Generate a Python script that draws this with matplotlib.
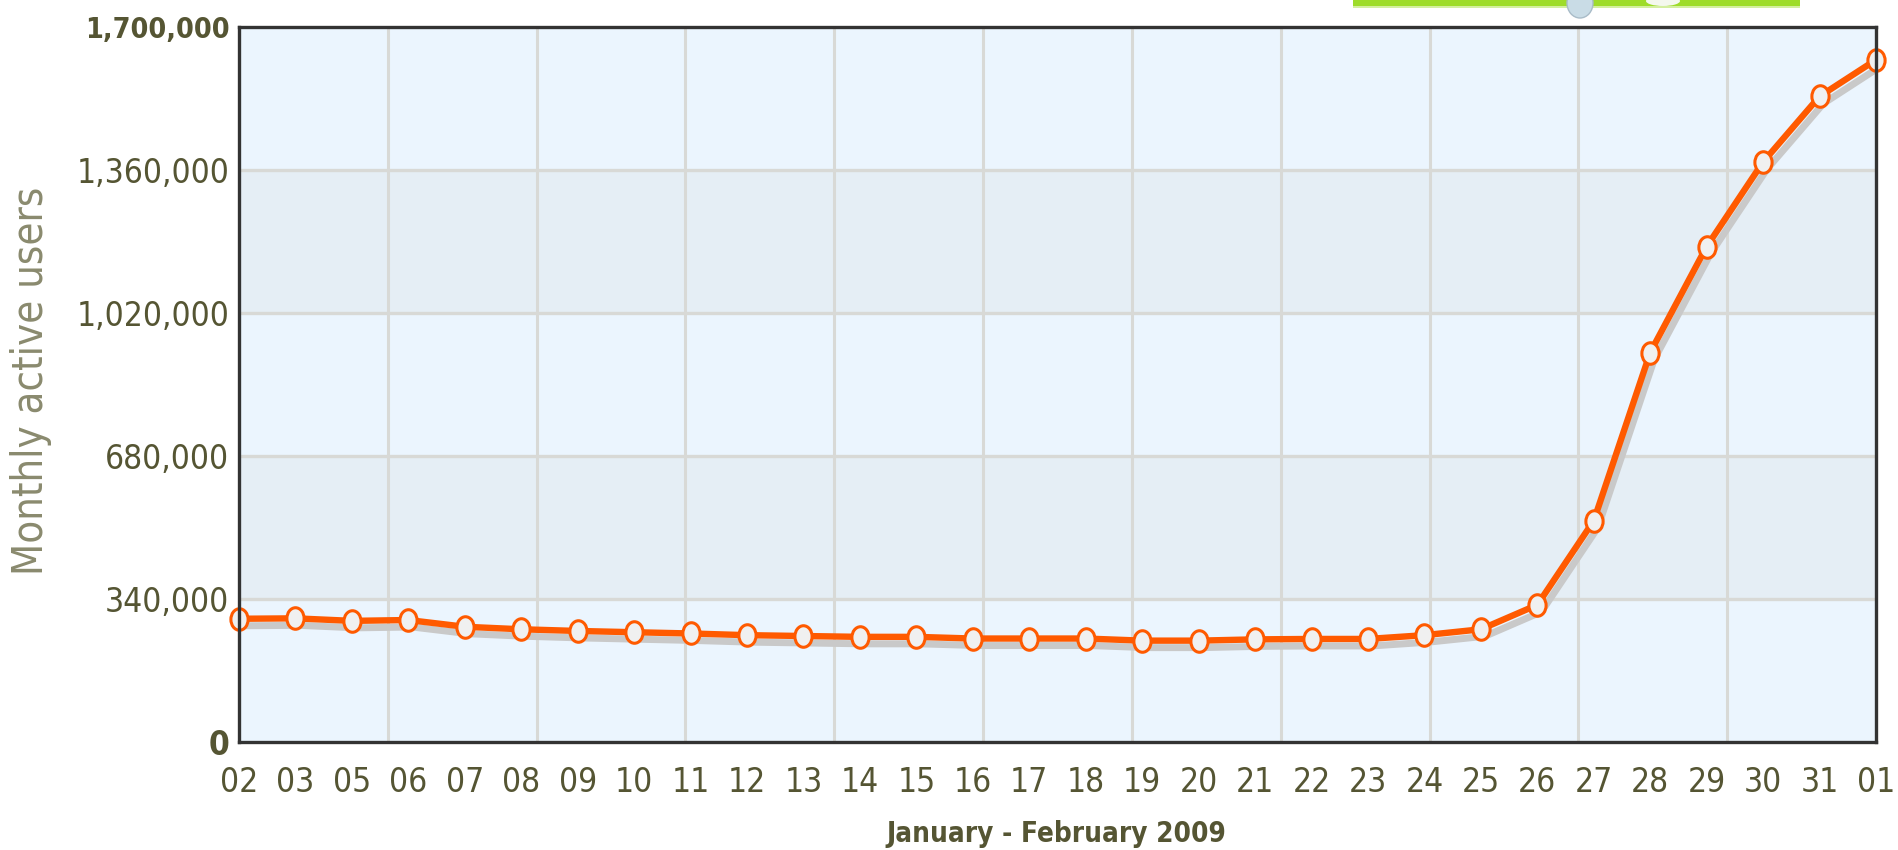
import os
import matplotlib
matplotlib.use("Agg")
import matplotlib.pyplot as plt
from matplotlib import font_manager
from matplotlib.font_manager import FontProperties
from matplotlib.transforms import offset_copy, Affine2D
from matplotlib.patches import Rectangle, Ellipse
from matplotlib.path import Path

# ---- data ----
day_labels = ["02", "03", "05", "06", "07", "08", "09", "10", "11", "12",
              "13", "14", "15", "16", "17", "18", "19", "20", "21", "22",
              "23", "24", "25", "26", "27", "28", "29", "30", "31", "01"]
monthly_active_users = [293000, 294000, 288000, 290000, 274000, 268000, 264000,
                        261000, 258000, 254000, 252000, 250000, 250000, 246000,
                        246000, 246000, 241000, 241000, 244000, 245000, 245000,
                        254000, 268000, 326000, 526000, 926000, 1178000, 1379000,
                        1535000, 1622000]
y_ticks = [0, 340000, 680000, 1020000, 1360000, 1700000]
y_tick_labels = ["0", "340,000", "680,000", "1,020,000", "1,360,000", "1,700,000"]
x_title = "January - February 2009"
y_title = "Monthly active users"


# ---- font choice: prefer a condensed face if one is installed ----
def find_face(cands):
    files = {os.path.basename(f.fname).lower(): f.fname
             for f in font_manager.fontManager.ttflist}
    for c in cands:
        if c.lower() in files:
            return files[c.lower()]
    return None


reg_file = find_face(["DejaVuSansCondensed.ttf", "LiberationSansNarrow-Regular.ttf",
                      "RobotoCondensed-Regular.ttf"])
bold_file = find_face(["DejaVuSansCondensed-Bold.ttf", "LiberationSansNarrow-Bold.ttf",
                       "RobotoCondensed-Bold.ttf"])
condensed = reg_file is not None and bold_file is not None


def fp(size, bold=False):
    if condensed:
        return FontProperties(fname=bold_file if bold else reg_file, size=size)
    return FontProperties(family="DejaVu Sans", size=size,
                          weight="bold" if bold else "normal")


if condensed:
    ytick_size, ytick_bold_size, xtick_size, xtitle_size, ytitle_size = 24, 20.5, 24, 20, 30
else:
    ytick_size, ytick_bold_size, xtick_size, xtitle_size, ytitle_size = 21.5, 18, 22, 18, 27

W, H, DPI = 1899, 850, 100
fig = plt.figure(figsize=(W / DPI, H / DPI), dpi=DPI)
fig.patch.set_facecolor("white")

L, R, T, B = 239, 1876, 27, 742
ax = fig.add_axes([L / W, 1 - B / H, (R - L) / W, (B - T) / H])

x = list(range(len(day_labels)))
ax.set_xlim(0, len(day_labels) - 1)
ax.set_ylim(0, 1700000)

# alternating bands
light, gray = "#EBF5FE", "#E5EEF5"
ax.set_facecolor(light)
for i in range(len(y_ticks) - 1):
    if i % 2 == 1:
        ax.axhspan(y_ticks[i], y_ticks[i + 1], color=gray, zorder=0, lw=0)

# grid
for yt in y_ticks[1:-1]:
    ax.axhline(yt, color="#D8D9D6", lw=2.4, zorder=1)
nv = 11
for i in range(1, nv):
    ax.axvline((len(day_labels) - 1) * i / nv, color="#D8D9D6", lw=2.2, zorder=1)

# shadow
shadow_tr = offset_copy(ax.transData, fig=fig, x=4, y=-7, units="dots")
ax.plot(x, monthly_active_users, color="#C9C9C9", lw=5.0, transform=shadow_tr,
        zorder=2, solid_joinstyle="round")

# oval marker (slightly taller than wide)
oval = Path.unit_circle().transformed(Affine2D().scale(0.8, 1.0))

# main line
ax.plot(x, monthly_active_users, color="#FF5A00", lw=4.6, marker=oval,
        markersize=15.5, markerfacecolor="#F0F0F0", markeredgecolor="#FF5A00",
        markeredgewidth=2.2, zorder=3, clip_on=False, solid_joinstyle="round")

# axes frame
for s in ax.spines.values():
    s.set_color("#333333")
    s.set_linewidth(2.4)
    s.set_zorder(4)

tick_color = "#555533"
ax.set_yticks(y_ticks)
ax.set_yticklabels(y_tick_labels, color=tick_color)
for lbl, txt in zip(ax.get_yticklabels(), y_tick_labels):
    if txt in ("0", "1,700,000"):
        lbl.set_fontproperties(fp(ytick_bold_size if txt != "0" else ytick_size, bold=True))
    else:
        lbl.set_fontproperties(fp(ytick_size))
ax.set_xticks(x)
ax.set_xticklabels(day_labels, color=tick_color)
for lbl in ax.get_xticklabels():
    lbl.set_fontproperties(fp(xtick_size))
ax.tick_params(axis="both", length=0)
ax.tick_params(axis="y", pad=7)
ax.tick_params(axis="x", pad=17)

fig.text(1056 / W, 1 - 834 / H, x_title, ha="center", va="center",
         fontproperties=fp(xtitle_size, bold=True), color=tick_color)
fig.text(31 / W, 1 - 381 / H, y_title, ha="center", va="center", rotation=90,
         fontproperties=fp(ytitle_size), color="#8A8A6E")

# green banner fragment at the top right
fig.add_artist(Rectangle((1353 / W, 1 - 6 / H), 447 / W, 6 / H,
                         transform=fig.transFigure, color="#9EDC2A", lw=0))
fig.add_artist(Rectangle((1353 / W, 1 - 8 / H), 447 / W, 2 / H,
                         transform=fig.transFigure, color="#D4EFA0", lw=0))
fig.add_artist(Ellipse((1580 / W, 1 - 3 / H), 26 / W, 30 / H,
                       transform=fig.transFigure, facecolor="#C9DCE6",
                       edgecolor="#A9BCC8", lw=1))
fig.add_artist(Ellipse((1663 / W, 1 - 1 / H), 34 / W, 10 / H,
                       transform=fig.transFigure, facecolor="#F4F8EE", lw=0))

fig.savefig("out.png", dpi=DPI)
